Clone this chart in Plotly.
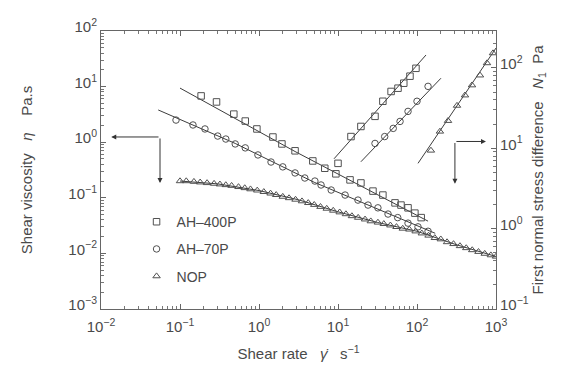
import plotly.graph_objects as go

# ---------------- data ----------------
# Shear viscosity (left axis)
ah400_eta_x = [0.185, 0.29, 0.48, 0.67, 0.94, 1.5, 1.95, 2.86, 4.8, 6.8, 9.4, 14.2, 19.5, 27.7, 37, 52.7, 62.7, 77, 94, 113]
ah400_eta_y = [6.8, 5.3, 3.2, 2.4, 1.73, 1.24, 0.93, 0.70, 0.46, 0.34, 0.27, 0.21, 0.185, 0.132, 0.112, 0.081, 0.074, 0.066, 0.053, 0.044]
ah400_eta_fit_x = [0.1, 2.86, 138]
ah400_eta_fit_y = [9.4, 0.68, 0.038]

ah70_eta_x = [0.089, 0.146, 0.207, 0.30, 0.38, 0.50, 0.67, 0.97, 1.42, 2.0, 2.86, 3.8, 5.1, 6.1, 8.2, 12.3, 17.9, 24, 32, 43, 57, 77, 103, 138]
ah70_eta_y = [2.5, 2.04, 1.73, 1.29, 1.14, 0.93, 0.79, 0.59, 0.44, 0.36, 0.28, 0.227, 0.20, 0.17, 0.138, 0.112, 0.091, 0.074, 0.066, 0.051, 0.044, 0.035, 0.030, 0.025]
ah70_eta_fit_x = [0.053, 0.5, 5, 50, 170]
ah70_eta_fit_y = [3.8, 0.95, 0.19, 0.047, 0.023]

nop_eta_x = [0.10, 0.12, 0.15, 0.18, 0.22, 0.27, 0.32, 0.38, 0.45, 0.55, 0.66, 0.78, 0.95, 1.15, 1.4, 1.65,
             2.0, 2.4, 2.9, 3.5, 4.2, 5.0, 6.0, 7.2, 8.7, 10.5, 12.6, 15, 18, 22, 26, 32, 38, 46, 55, 66,
             80, 96, 115, 140, 168, 200, 240, 290, 350, 420, 500, 600, 720, 860, 1000]
nop_eta_y = [0.20, 0.20, 0.195, 0.19, 0.185, 0.18, 0.175, 0.17, 0.165, 0.157, 0.15, 0.143, 0.136, 0.128, 0.12, 0.113,
             0.105, 0.099, 0.093, 0.087, 0.081, 0.075, 0.069, 0.064, 0.059, 0.055, 0.051, 0.047, 0.044, 0.041, 0.038, 0.036, 0.034, 0.032, 0.030, 0.028,
             0.027, 0.025, 0.023, 0.021, 0.019, 0.018, 0.016, 0.0148, 0.0136, 0.0125, 0.0115, 0.0107, 0.0099, 0.0093, 0.0088]
nop_eta_fit_x = [0.1, 0.3, 1, 3.16, 10, 31.6, 100, 316, 1000]
nop_eta_fit_y = [0.20, 0.178, 0.135, 0.092, 0.056, 0.036, 0.025, 0.0143, 0.0088]

# First normal stress difference (right axis)
ah400_n1_x = [10, 14.6, 19.5, 29.4, 37, 47, 57.5, 68, 81.5, 97]
ah400_n1_y = [6.5, 14.0, 18.7, 25, 38.5, 51, 56, 64.6, 79, 99]
ah400_n1_fit_x = [8.9, 130]
ah400_n1_fit_y = [7.4, 145]

ah70_n1_x = [29.4, 39, 50, 61, 77, 100, 138]
ah70_n1_y = [11.5, 14, 17.7, 21.6, 28.8, 38.5, 59]
ah70_n1_fit_x = [19.5, 201]
ah70_n1_fit_y = [6.8, 74.5]

nop_n1_x = [150, 195, 247, 321, 405, 497, 627, 769, 916]
nop_n1_y = [9.4, 16.2, 22, 34, 45.7, 61, 81, 115, 153]
nop_n1_fit_x = [103, 1000]
nop_n1_fit_y = [6.5, 177]

series_names = ["AH\u2013400P", "AH\u201370P", "NOP"]

# tick labels
x_tickvals = [0.01, 0.1, 1, 10, 100, 1000]
x_ticktext = ["10<sup>\u22122</sup>", "10<sup>\u22121</sup>", "10<sup>0</sup>", "10<sup>1</sup>", "10<sup>2</sup>", "10<sup>3</sup>"]
y_tickvals = [0.001, 0.01, 0.1, 1, 10, 100]
y_ticktext = ["10<sup>\u22123</sup>", "10<sup>\u22122</sup>", "10<sup>\u22121</sup>", "10<sup>0</sup>", "10<sup>1</sup>", "10<sup>2</sup>"]
y2_tickvals = [0.1, 1, 10, 100]
y2_ticktext = ["10<sup>\u22121</sup>", "10<sup>0</sup>", "10<sup>1</sup>", "10<sup>2</sup>"]

# ---------------- styles ----------------
FONT = "Arial, Liberation Sans, sans-serif"
MC = "#505050"
LC = "#3c3c3c"
TXT = "#4a4a4a"

fig = go.Figure()

def fit(x, y, yaxis="y"):
    fig.add_trace(go.Scatter(x=x, y=y, mode="lines", yaxis=yaxis, showlegend=False,
                             line=dict(color=LC, width=1), hoverinfo="skip"))

def pts(x, y, symbol, name=None, yaxis="y", legend=False, group=None):
    fig.add_trace(go.Scatter(x=x, y=y, mode="markers", yaxis=yaxis, name=name,
                             showlegend=legend, legendgroup=group,
                             marker=dict(symbol=symbol, size=6.5, color=MC,
                                         line=dict(color=MC, width=1))))

fit(ah400_eta_fit_x, ah400_eta_fit_y)
fit(ah70_eta_fit_x, ah70_eta_fit_y)
fit(nop_eta_fit_x, nop_eta_fit_y)
fit(ah400_n1_fit_x, ah400_n1_fit_y, "y2")
fit(ah70_n1_fit_x, ah70_n1_fit_y, "y2")
fit(nop_n1_fit_x, nop_n1_fit_y, "y2")

pts(ah400_eta_x, ah400_eta_y, "square-open", series_names[0], legend=True, group="a")
pts(ah70_eta_x, ah70_eta_y, "circle-open", series_names[1], legend=True, group="b")
pts(nop_eta_x, nop_eta_y, "triangle-up-open", series_names[2], legend=True, group="c")
pts(ah400_n1_x, ah400_n1_y, "square-open", yaxis="y2", group="a")
pts(ah70_n1_x, ah70_n1_y, "circle-open", yaxis="y2", group="b")
pts(nop_n1_x, nop_n1_y, "triangle-up-open", yaxis="y2", group="c")

axis_common = dict(type="log", ticks="inside", ticklen=5, automargin=False,
                   tickcolor="#666", showline=True, linecolor="#666", linewidth=1,
                   showgrid=False, zeroline=False,
                   tickfont=dict(family=FONT, size=15, color=TXT),
                   minor=dict(ticks="inside", ticklen=3, tickcolor="#777", showgrid=False, dtick="D1"))

fig.update_layout(
    width=562, height=376,
    margin=dict(l=93, r=74, t=23, b=75),
    paper_bgcolor="white", plot_bgcolor="white",
    font=dict(family=FONT, color=TXT),
    hovermode=False,
    xaxis=dict(axis_common, range=[-2, 3], mirror="ticks", ticklabelstandoff=4,
               tickmode="array", tickvals=x_tickvals, ticktext=x_ticktext,
               title=dict(text="Shear rate   <i>\u03b3\u0307</i>   s<sup>\u22121</sup>",
                          font=dict(family=FONT, size=15, color=TXT), standoff=14)),
    yaxis=dict(axis_common, range=[-3, 2], ticklabelshift=-4,
               tickmode="array", tickvals=y_tickvals, ticktext=y_ticktext,
               title=dict(text="Shear viscosity   <i>\u03b7</i>    Pa.s",
                          font=dict(family=FONT, size=15, color=TXT), standoff=32)),
    yaxis2=dict(axis_common, range=[-1, 2.46], overlaying="y", side="right", ticklabelshift=-4,
                tickmode="array", tickvals=y2_tickvals, ticktext=y2_ticktext,
                title=dict(text="First normal stress difference   <i>N</i><sub>1</sub>  Pa",
                           font=dict(family=FONT, size=15, color=TXT), standoff=4)),
    legend=dict(x=0.09, y=0.37, xanchor="left", yanchor="top",
                bgcolor="rgba(0,0,0,0)", borderwidth=0,
                font=dict(family=FONT, size=14, color=TXT),
                tracegroupgap=6, itemwidth=30),
    showlegend=True,
)

arrow = dict(showarrow=True, arrowhead=2, arrowsize=1, arrowwidth=1, arrowcolor="#333",
             text="", axref="x", xref="x")
# left arrows (point to left axis)
fig.add_annotation(arrow, x=-1.87, y=0.094, ax=-1.253, ay=0.094, yref="y", ayref="y")
fig.add_annotation(arrow, x=-1.253, y=-0.734, ax=-1.253, ay=0.094, yref="y", ayref="y")
# right arrows (point to right axis)
fig.add_annotation(arrow, x=2.873, y=1.085, ax=2.48, ay=1.085, yref="y2", ayref="y2")
fig.add_annotation(arrow, x=2.48, y=0.56, ax=2.48, ay=1.085, yref="y2", ayref="y2")

fig.write_html("out.html")
